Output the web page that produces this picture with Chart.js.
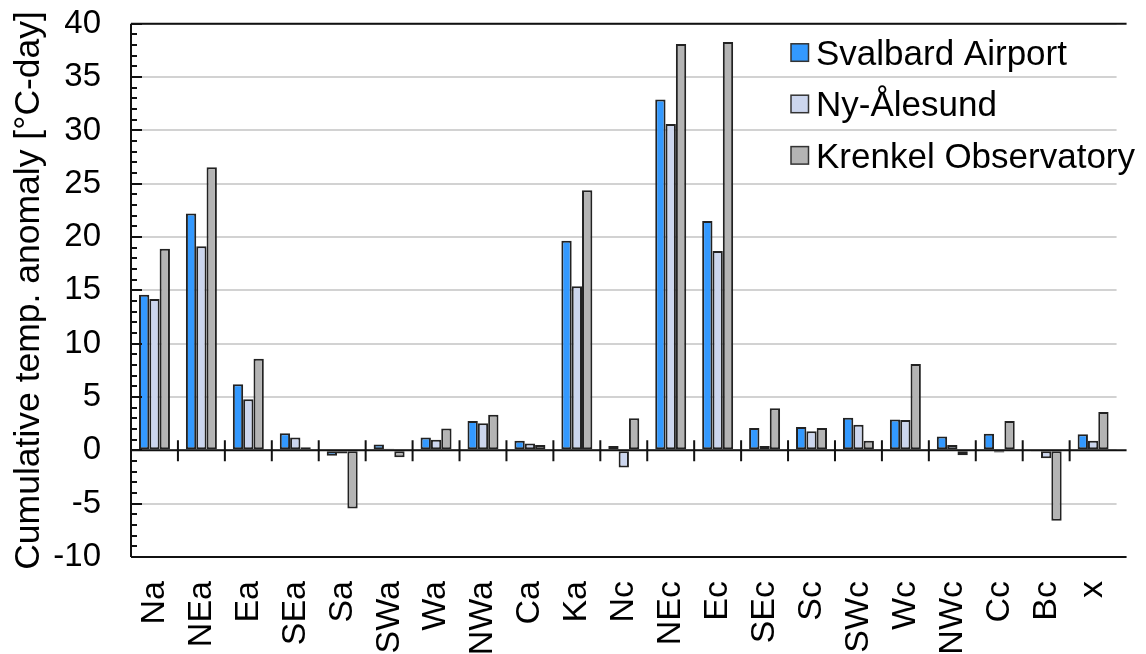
<!DOCTYPE html>
<html><head><meta charset="utf-8">
<script src="https://cdn.jsdelivr.net/npm/chart.js@4.4.0/dist/chart.umd.min.js"></script>
<style>
html,body{margin:0;padding:0;overflow:hidden;background:#fff;width:1146px;height:654px}
#wrap{position:absolute;left:0;top:-26px;width:1158px;height:680px}
canvas{display:block}
</style></head>
<body><div id="wrap"><canvas id="c" width="1158" height="680" style="width:1158px;height:680px"></canvas></div>
<script>
const categories = ['Na','NEa','Ea','SEa','Sa','SWa','Wa','NWa','Ca','Ka','Nc','NEc','Ec','SEc','Sc','SWc','Wc','NWc','Cc','Bc','x'];
const svalbardAirport = [14.6, 22.2, 6.2, 1.6, -0.5, 0.55, 1.2, 2.75, 0.9, 19.65, 0.4, 32.9, 21.5, 2.1, 2.2, 3.05, 2.9, 1.3, 1.55, -0.05, 1.5];
const nyAlesund = [14.2, 19.15, 4.8, 1.2, -0.3, 0.15, 1.0, 2.55, 0.65, 15.4, -1.6, 30.6, 18.7, 0.4, 1.8, 2.4, 2.85, 0.5, -0.2, -0.75, 0.9];
const krenkelObservatory = [18.9, 26.55, 8.6, 0.3, -5.45, -0.65, 2.05, 3.35, 0.5, 24.4, 3.0, 38.1, 38.3, 3.95, 2.1, 0.9, 8.1, -0.45, 2.75, -6.6, 3.6];
const seriesNames = ['Svalbard Airport', 'Ny-Ålesund', 'Krenkel Observatory'];
const yMin = -10, yMax = 40, yStep = 5, yMinorStep = 1;
const yTitle = 'Cumulative temp. anomaly [°C-day]';

const FONT = '"Liberation Sans", Arial, Helvetica, sans-serif';
const colors = ['#3399ff', '#ccd6ee', '#b4b4b4'];

const framePlugin = {
  id: 'frame',
  afterDatasetsDraw(chart) {
    const ctx = chart.ctx, a = chart.chartArea;
    const y = chart.scales.y, x = chart.scales.x;
    ctx.save();
    ctx.strokeStyle = '#111';
    ctx.lineWidth = 2;
    ctx.beginPath();
    ctx.moveTo(a.left, a.top); ctx.lineTo(a.right + 10, a.top);
    ctx.moveTo(a.left, a.top); ctx.lineTo(a.left, a.bottom);
    ctx.moveTo(a.left, a.bottom); ctx.lineTo(a.right + 10, a.bottom);
    ctx.stroke();
    ctx.beginPath();
    for (let v = yMin; v <= yMax; v += yMinorStep) {
      const py = Math.round(y.getPixelForValue(v));
      const len = (v % yStep === 0) ? 11 : 6;
      ctx.moveTo(a.left, py); ctx.lineTo(a.left + len, py);
    }
    ctx.stroke();
    const z = y.getPixelForValue(0);
    ctx.beginPath();
    ctx.moveTo(a.left, z); ctx.lineTo(a.right + 10, z);
    ctx.stroke();
    ctx.beginPath();
    for (let i = 0; i < categories.length - 1; i++) {
      const bx = (x.getPixelForValue(i) + x.getPixelForValue(i + 1)) / 2;
      ctx.moveTo(bx, z - 10); ctx.lineTo(bx, z + 11);
    }
    ctx.stroke();
    ctx.restore();
  }
};

const legendPlugin = {
  id: 'boxLegend',
  afterDraw(chart) {
    const ctx = chart.ctx, a = chart.chartArea;
    ctx.save();
    ctx.font = '35px ' + FONT;
    ctx.textBaseline = 'alphabetic';
    chart.data.datasets.forEach((ds, i) => {
      const cy = a.top + 29 + i * 51.4;
      const bx = 791;
      ctx.fillStyle = ds.backgroundColor;
      ctx.fillRect(bx, cy - 9, 17.5, 17.5);
      ctx.strokeStyle = '#333';
      ctx.lineWidth = 1.5;
      ctx.strokeRect(bx, cy - 9, 17.5, 17.5);
      ctx.fillStyle = '#000';
      ctx.fillText(ds.label, bx + 25, cy + 12);
    });
    ctx.restore();
  }
};

const seriesValues = [svalbardAirport, nyAlesund, krenkelObservatory];
new Chart(document.getElementById('c'), {
  type: 'bar',
  data: {
    labels: categories,
    datasets: seriesValues.map((vals, i) => ({
      label: seriesNames[i],
      data: vals,
      backgroundColor: colors[i],
      borderColor: '#222',
      borderWidth: 2,
      borderSkipped: false,
      categoryPercentage: 0.66,
      barPercentage: 1.0
    }))
  },
  options: {
    responsive: false,
    animation: false,
    devicePixelRatio: 1,
    layout: { padding: { top: 0, right: 4, left: 0, bottom: 0 } },
    plugins: { legend: { display: false }, tooltip: { enabled: false } },
    scales: {
      x: {
        grid: { display: false, drawTicks: false },
        border: { display: false },
        ticks: {
          color: '#000', font: { family: FONT, size: 34 },
          maxRotation: 90, minRotation: 90, autoSkip: false, padding: 24
        },
        afterFit(s) { s.height = 97; }
      },
      y: {
        min: yMin, max: yMax,
        grid: { color: '#d2d2d2', lineWidth: 2, drawTicks: false },
        border: { display: false },
        ticks: { stepSize: yStep, color: '#000', font: { family: FONT, size: 33 }, padding: 30 },
        title: { display: true, text: yTitle, color: '#000', font: { family: FONT, size: 35.5 }, padding: { top: 8, bottom: 0 } },
        afterFit(s) { s.width = 131; }
      }
    }
  },
  plugins: [framePlugin, legendPlugin]
});
</script>
</body></html>
